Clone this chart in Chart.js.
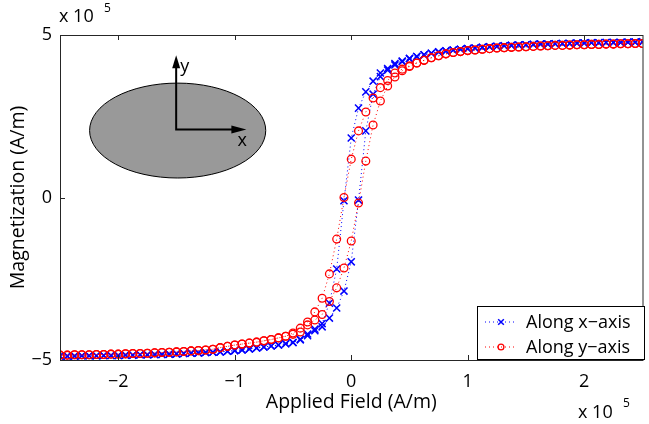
<!DOCTYPE html>
<html>
<head>
<meta charset="utf-8">
<script src="https://cdn.jsdelivr.net/npm/chart.js@4/dist/chart.umd.min.js"></script>
<style>
  html, body { margin: 0; padding: 0; background: #fff; }
  #wrap { width: 649px; height: 424px; }
</style>
</head>
<body>
<div id="wrap"><canvas id="chart" width="649" height="424"></canvas></div>
<script>
/* Hysteresis loops (MATLAB-style figure). Values are in units of 1e5 A/m,
   field grid from -2.5 to 2.5 in steps of 0.0625; each series has a
   descending and an ascending branch on the same grid. */
var field = [
  -2.5, -2.4375, -2.375, -2.3125, -2.25, -2.1875, -2.125, -2.0625,
  -2.0, -1.9375, -1.875, -1.8125, -1.75, -1.6875, -1.625, -1.5625,
  -1.5, -1.4375, -1.375, -1.3125, -1.25, -1.1875, -1.125, -1.0625,
  -1.0, -0.9375, -0.875, -0.8125, -0.75, -0.6875, -0.625, -0.5625,
  -0.5, -0.4375, -0.375, -0.3125, -0.25, -0.1875, -0.125, -0.0625,
  0.0, 0.0625, 0.125, 0.1875, 0.25, 0.3125, 0.375, 0.4375,
  0.5, 0.5625, 0.625, 0.6875, 0.75, 0.8125, 0.875, 0.9375,
  1.0, 1.0625, 1.125, 1.1875, 1.25, 1.3125, 1.375, 1.4375,
  1.5, 1.5625, 1.625, 1.6875, 1.75, 1.8125, 1.875, 1.9375,
  2.0, 2.0625, 2.125, 2.1875, 2.25, 2.3125, 2.375, 2.4375, 2.5
];

var xAxisDown = [
  -4.88, -4.88, -4.88, -4.87, -4.87, -4.87, -4.86, -4.86,
  -4.86, -4.85, -4.85, -4.84, -4.84, -4.83, -4.83, -4.82,
  -4.81, -4.80, -4.79, -4.78, -4.77, -4.76, -4.75, -4.73,
  -4.71, -4.69, -4.66, -4.63, -4.60, -4.57, -4.54, -4.50,
  -4.46, -4.36, -4.20, -4.05, -3.88, -3.25, -2.20, -0.10,
  1.83, 2.75, 3.25, 3.58, 3.83, 3.97, 4.12, 4.20,
  4.28, 4.34, 4.39, 4.44, 4.48, 4.51, 4.54, 4.56,
  4.58, 4.60, 4.62, 4.64, 4.65, 4.67, 4.68, 4.69,
  4.70, 4.71, 4.72, 4.72, 4.73, 4.74, 4.74, 4.75,
  4.75, 4.76, 4.76, 4.77, 4.77, 4.77, 4.78, 4.78, 4.79
];
var xAxisUp = [
  -4.88, -4.88, -4.88, -4.87, -4.87, -4.87, -4.86, -4.86,
  -4.86, -4.85, -4.85, -4.84, -4.84, -4.83, -4.83, -4.82,
  -4.81, -4.80, -4.79, -4.78, -4.77, -4.76, -4.75, -4.73,
  -4.71, -4.69, -4.66, -4.63, -4.60, -4.57, -4.54, -4.50,
  -4.46, -4.38, -4.25, -4.10, -3.98, -3.71, -3.40, -2.88,
  -1.98, -0.08, 2.05, 3.18, 3.72, 3.92, 4.08, 4.18,
  4.27, 4.34, 4.39, 4.44, 4.48, 4.51, 4.54, 4.56,
  4.58, 4.60, 4.62, 4.64, 4.65, 4.67, 4.68, 4.69,
  4.70, 4.71, 4.72, 4.72, 4.73, 4.74, 4.74, 4.75,
  4.75, 4.76, 4.76, 4.77, 4.77, 4.77, 4.78, 4.78, 4.79
];
var yAxisDown = [
  -4.85, -4.85, -4.84, -4.84, -4.84, -4.83, -4.83, -4.82,
  -4.82, -4.81, -4.80, -4.80, -4.79, -4.78, -4.77, -4.76,
  -4.75, -4.74, -4.72, -4.71, -4.69, -4.67, -4.62, -4.58,
  -4.54, -4.51, -4.48, -4.45, -4.41, -4.37, -4.32, -4.27,
  -4.17, -4.02, -3.83, -3.52, -3.10, -2.35, -1.28, 0.00,
  1.18, 2.05, 2.63, 3.06, 3.38, 3.60, 3.83, 3.95,
  4.05, 4.14, 4.22, 4.30, 4.36, 4.42, 4.46, 4.49,
  4.52, 4.54, 4.56, 4.58, 4.60, 4.61, 4.62, 4.63,
  4.64, 4.65, 4.66, 4.67, 4.68, 4.68, 4.69, 4.70,
  4.70, 4.71, 4.71, 4.72, 4.72, 4.73, 4.73, 4.74, 4.74
];
var yAxisUp = [
  -4.85, -4.85, -4.84, -4.84, -4.84, -4.83, -4.83, -4.82,
  -4.82, -4.81, -4.80, -4.80, -4.79, -4.78, -4.77, -4.76,
  -4.75, -4.74, -4.72, -4.71, -4.69, -4.67, -4.62, -4.58,
  -4.54, -4.51, -4.48, -4.45, -4.41, -4.37, -4.32, -4.27,
  -4.21, -4.14, -3.92, -3.77, -3.60, -3.20, -2.78, -2.17,
  -1.34, -0.17, 1.12, 2.23, 2.97, 3.43, 3.71, 3.90,
  4.03, 4.14, 4.22, 4.30, 4.36, 4.42, 4.46, 4.49,
  4.52, 4.54, 4.56, 4.58, 4.60, 4.61, 4.62, 4.63,
  4.64, 4.65, 4.66, 4.67, 4.68, 4.68, 4.69, 4.70,
  4.70, 4.71, 4.71, 4.72, 4.72, 4.73, 4.73, 4.74, 4.74
];

var seriesNames = ["Along x\u2212axis", "Along y\u2212axis"];
var xTicks = [-2, -1, 0, 1, 2];
var xTickLabels = ["\u22122", "\u22121", "0", "1", "2"];
var yTicks = [-5, 0, 5];
var yTickLabels = ["\u22125", "0", "5"];

(function () {
  "use strict";

  var FONT = "'Open Sans', 'DejaVu Sans', sans-serif";
  var BLUE = "#0000ff";
  var RED = "#ff0000";

  // one closed loop: sweep down from +sat, then back up
  function loop(down, up) {
    var pts = [];
    for (var i = field.length - 1; i >= 0; i--) pts.push({ x: field[i], y: down[i] });
    for (var j = 0; j < field.length; j++) pts.push({ x: field[j], y: up[j] });
    return pts;
  }

  function fixedTicks(values) {
    return function (scale) {
      scale.ticks = values.map(function (v) { return { value: v }; });
    };
  }

  // box, inward ticks, x10^5 exponents, the ellipse inset and the legend
  var matlabFrame = {
    id: "matlabFrame",
    afterDraw: function (chart) {
      var ctx = chart.ctx;
      var a = chart.chartArea;
      var xs = chart.scales.x;
      var ys = chart.scales.y;
      ctx.save();

      ctx.strokeStyle = "#262626";
      ctx.lineWidth = 1;
      ctx.strokeRect(a.left + 0.5, a.top + 0.5, a.right - a.left, a.bottom - a.top);

      ctx.beginPath();
      xTicks.forEach(function (v) {
        var px = Math.round(xs.getPixelForValue(v)) + 0.5;
        ctx.moveTo(px, a.bottom); ctx.lineTo(px, a.bottom - 5);
        ctx.moveTo(px, a.top); ctx.lineTo(px, a.top + 5);
      });
      yTicks.forEach(function (v) {
        var py = Math.round(ys.getPixelForValue(v)) + 0.5;
        ctx.moveTo(a.left, py); ctx.lineTo(a.left + 5, py);
      });
      ctx.stroke();

      // exponent labels
      ctx.fillStyle = "#000";
      ctx.textBaseline = "alphabetic";
      ctx.textAlign = "left";
      ctx.font = "18px " + FONT;
      ctx.fillText("x 10", a.left - 1, 22);
      ctx.fillText("x 10", 578, 418);
      ctx.font = "12px " + FONT;
      ctx.fillText("5", a.left + 44, 12);
      ctx.fillText("5", 623, 407);

      // inset: ellipse with x/y arrows
      var cx = xs.getPixelForValue(-1.49);
      var cy = ys.getPixelForValue(2.06);
      var rx = xs.getPixelForValue(-1.49 + 0.756) - cx;
      var ry = cy - ys.getPixelForValue(2.06 + 1.46);
      ctx.beginPath();
      ctx.ellipse(cx, cy, rx, ry, 0, 0, Math.PI * 2);
      ctx.fillStyle = "#999999";
      ctx.fill();
      ctx.lineWidth = 1;
      ctx.strokeStyle = "#000";
      ctx.stroke();

      var ox = cx - 1.5;
      var oy = cy - 1;
      var tipY = ys.getPixelForValue(4.38);
      var tipX = xs.getPixelForValue(-0.90);
      ctx.lineWidth = 2;
      ctx.beginPath();
      ctx.moveTo(ox, tipY + 10); ctx.lineTo(ox, oy); ctx.lineTo(tipX - 12, oy);
      ctx.stroke();
      ctx.fillStyle = "#000";
      ctx.beginPath();
      ctx.moveTo(ox, tipY); ctx.lineTo(ox - 4, tipY + 13); ctx.lineTo(ox + 4, tipY + 13); ctx.closePath();
      ctx.fill();
      ctx.beginPath();
      ctx.moveTo(tipX, oy); ctx.lineTo(tipX - 15, oy - 4); ctx.lineTo(tipX - 15, oy + 4); ctx.closePath();
      ctx.fill();
      ctx.font = "18px " + FONT;
      ctx.textBaseline = "middle";
      ctx.textAlign = "left";
      ctx.fillText("y", ox + 4, tipY + 12);
      ctx.fillText("x", tipX - 9, oy + 11);

      // legend
      var lx = 477, ly = 306, lw = 167, lh = 53;
      ctx.fillStyle = "#fff";
      ctx.fillRect(lx, ly, lw, lh);
      ctx.lineWidth = 1;
      ctx.strokeStyle = "#000";
      ctx.strokeRect(lx + 0.5, ly + 0.5, lw, lh);
      chart.data.datasets.forEach(function (ds, i) {
        var rowY = ly + 16 + i * 25;
        ctx.save();
        ctx.strokeStyle = ds.borderColor;
        ctx.lineWidth = 1;
        ctx.setLineDash([1, 3]);
        ctx.beginPath();
        ctx.moveTo(lx + 8, rowY); ctx.lineTo(lx + 40, rowY);
        ctx.stroke();
        ctx.restore();
        ctx.save();
        ctx.strokeStyle = ds.pointBorderColor;
        ctx.fillStyle = "rgba(0,0,0,0)";
        ctx.lineWidth = ds.pointBorderWidth;
        Chart.helpers.drawPoint(ctx, { pointStyle: ds.pointStyle, radius: ds.pointRadius - 1, borderWidth: ds.pointBorderWidth }, lx + 24, rowY);
        ctx.restore();
        ctx.fillStyle = "#000";
        ctx.font = "18px " + FONT;
        ctx.textBaseline = "middle";
        ctx.fillText(ds.label, lx + 49, rowY + 1);
      });

      ctx.restore();
    },
  };

  new Chart(document.getElementById("chart"), {
    type: "scatter",
    data: {
      datasets: [
        {
          label: seriesNames[0],
          data: loop(xAxisDown, xAxisUp),
          showLine: true,
          borderColor: BLUE,
          borderWidth: 1,
          borderDash: [1, 3],
          pointStyle: "crossRot",
          pointRadius: 5,
          pointBorderColor: BLUE,
          pointBorderWidth: 1.5,
          pointBackgroundColor: "rgba(0,0,0,0)",
          order: 1,
        },
        {
          label: seriesNames[1],
          data: loop(yAxisDown, yAxisUp),
          showLine: true,
          borderColor: RED,
          borderWidth: 1,
          borderDash: [1, 3],
          pointStyle: "circle",
          pointRadius: 3.9,
          pointBorderColor: RED,
          pointBorderWidth: 1.3,
          pointBackgroundColor: "rgba(0,0,0,0)",
          order: 0,
        },
      ],
    },
    options: {
      responsive: false,
      animation: false,
      events: [],
      layout: { padding: { top: 35, right: 0, left: 0, bottom: 0 } },
      plugins: { legend: { display: false }, tooltip: { enabled: false } },
      scales: {
        x: {
          type: "linear",
          min: -2.5,
          max: 2.5,
          grid: { display: false, drawTicks: false },
          border: { display: false },
          afterBuildTicks: fixedTicks(xTicks),
          afterFit: function (scale) { scale.height = 64; },
          ticks: {
            color: "#000",
            padding: 11,
            maxRotation: 0,
            font: { family: FONT, size: 18 },
            callback: function (v) { return xTickLabels[xTicks.indexOf(v)]; },
          },
          title: {
            display: true,
            text: "Applied Field (A/m)",
            color: "#000",
            padding: { top: 0, bottom: 10 },
            font: { family: FONT, size: 19.5 },
          },
        },
        y: {
          type: "linear",
          min: -5,
          max: 5,
          grid: { display: false, drawTicks: false },
          border: { display: false },
          afterBuildTicks: fixedTicks(yTicks),
          afterFit: function (scale) { scale.width = 60; },
          ticks: {
            color: "#000",
            padding: 8,
            font: { family: FONT, size: 18 },
            callback: function (v) { return yTickLabels[yTicks.indexOf(v)]; },
          },
          title: {
            display: true,
            text: "Magnetization (A/m)",
            color: "#000",
            padding: { top: 7, bottom: 0 },
            font: { family: FONT, size: 19.5 },
          },
        },
      },
    },
    plugins: [matlabFrame],
  });
})();
</script>
</body>
</html>
